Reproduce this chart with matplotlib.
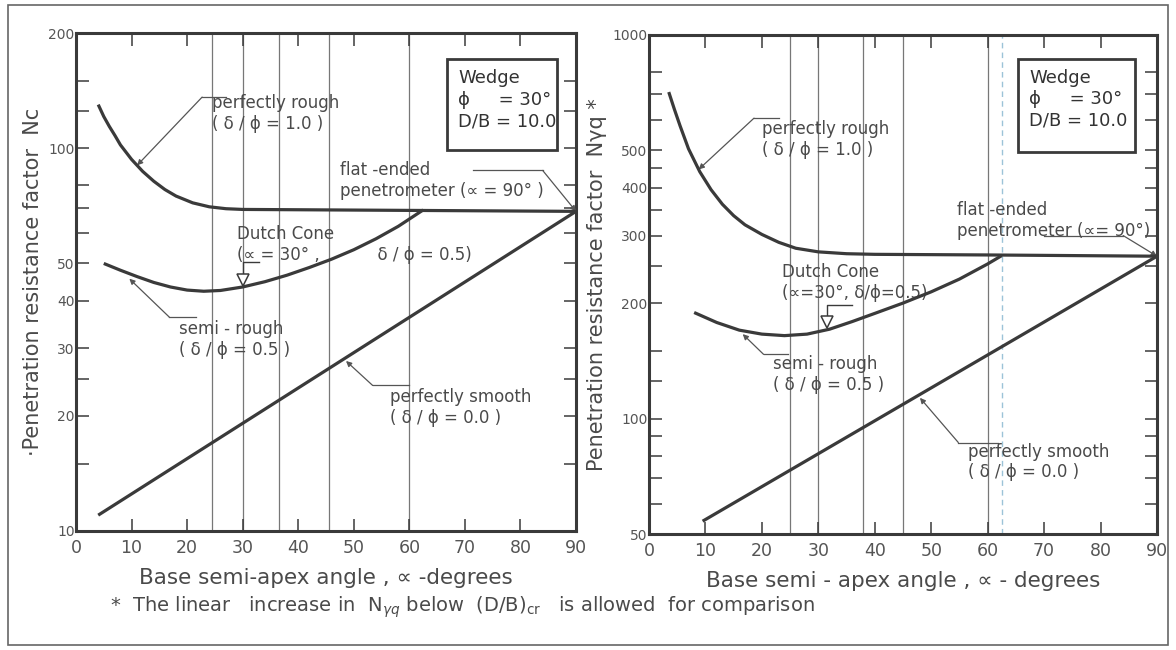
import numpy as np
import matplotlib.pyplot as plt
from matplotlib.patches import Rectangle
from matplotlib.ticker import NullLocator

# ---- data ----
# left panel: Nc
nc_rough_x = [4, 5, 6, 7, 8, 10, 12, 14, 16, 18, 21, 24, 27, 30, 45, 60, 75, 90]
nc_rough_y = [130, 121, 114, 108, 102, 93.5, 87, 82, 78, 75, 72, 70.3, 69.5, 69.2, 69, 68.8, 68.6, 68.4]
nc_semi_x = [5, 8, 11, 14, 17, 20, 23, 26, 30, 34, 38, 42, 46, 50, 54, 58, 62.5]
nc_semi_y = [50, 48, 46.2, 44.6, 43.4, 42.6, 42.3, 42.5, 43.4, 44.8, 46.6, 48.8, 51.3, 54.3, 58, 62.5, 69]
nc_smooth_x = [4, 90]
nc_smooth_y = [11, 68.4]
nc_vlines = [24.5, 30, 36.5, 45.5, 60]
nc_ticks = [10, 15, 20, 25, 30, 40, 50, 60, 70, 80, 100, 125, 150, 200]
nc_labels = ['10', '', '20', '', '30', '40', '50', '', '', '', '100', '', '', '200']

# right panel: N gamma q
nq_rough_x = [3.5, 4.5, 5.5, 7, 9, 11, 13, 15, 17, 20, 23, 26, 30, 35, 40, 60, 90]
nq_rough_y = [710, 640, 580, 505, 440, 395, 362, 338, 320, 302, 288, 278, 272, 269, 268, 267, 265]
nq_semi_x = [8, 12, 16, 20, 24, 28, 32, 36, 40, 45, 50, 55, 60, 62.5]
nq_semi_y = [189, 178, 170, 166, 164.5, 166, 171, 179, 188, 200, 214, 231, 253, 266]
nq_smooth_x = [9.5, 90]
nq_smooth_y = [54, 265]
nq_vlines = [25, 30, 38, 45, 60]
nq_ticks = [50, 60, 70, 80, 90, 100, 125, 150, 200, 250, 300, 350, 400, 450, 500, 600, 700, 800, 1000]
nq_labels = ['50', '', '', '', '', '100', '', '', '200', '', '300', '', '400', '', '500', '', '', '', '1000']

x_ticks = [0, 10, 20, 30, 40, 50, 60, 70, 80, 90]

INK = '#3a3a3a'
TXT = '#4a4a4a'
ANN = 12


def on_curve(x, xs, ys):
    return 10 ** np.interp(x, xs, np.log10(ys))


def leader(ax, text_xy, text, path, tip):
    ax.text(text_xy[0], text_xy[1], text, fontsize=ANN, color=TXT,
            ha='left', va='center', linespacing=1.2)
    px = [p[0] for p in path]
    py = [p[1] for p in path]
    ax.plot(px, py, color='#555555', lw=0.9)
    ax.annotate('', xy=tip, xytext=path[-1],
                arrowprops=dict(arrowstyle='-|>', color='#555555', lw=0.9,
                                mutation_scale=8, shrinkA=0, shrinkB=0))


def dutch_marker(ax, x, xs, ys, bar_len):
    y = on_curve(x, xs, ys)
    ax.plot([x], [y * 1.045], marker='v', ms=9, mfc='white', mec=INK, mew=1.1, zorder=5)
    ax.plot([x, x, x + bar_len], [y * 1.08, y * 1.16, y * 1.16], color=INK, lw=1.0)


def setup(ax, ylim, ticks, labels, vlines, ylabel, xlabel):
    ax.set_yscale('log')
    ax.set_xlim(0, 90)
    ax.set_ylim(*ylim)
    ax.set_yticks(ticks, labels)
    ax.yaxis.set_minor_locator(NullLocator())
    ax.set_xticks(x_ticks)
    ax.tick_params(axis='both', direction='in', length=9, width=1.1, color=INK,
                   top=True, right=True)
    ax.tick_params(axis='y', labelsize=10, labelcolor='#555555', pad=1)
    ax.tick_params(axis='x', labelsize=12.5, labelcolor='#555555', pad=6)
    for s in ax.spines.values():
        s.set_linewidth(2.2)
        s.set_color(INK)
    for v in vlines:
        ax.axvline(v, color='#777777', lw=0.9, zorder=1)
    ax.set_ylabel(ylabel, fontsize=15, color=TXT, labelpad=4)
    ax.set_xlabel(xlabel, fontsize=15.5, color=TXT, labelpad=8)


def wedge_box(ax, x0, y0, x1, y1):
    ax.add_patch(Rectangle((x0, y0), x1 - x0, y1 - y0, transform=ax.transAxes,
                           fill=False, lw=2.0, ec=INK, zorder=6))
    tx = x0 + 0.022
    ax.text(tx, y1 - 0.02, 'Wedge\nϕ     = 30°\nD/B = 10.0', transform=ax.transAxes,
            fontsize=13, color='#333333', va='top', ha='left', linespacing=1.25)


fig = plt.figure(figsize=(11.76, 6.5), dpi=100)
fig.patches.append(Rectangle((8 / 1176, 5 / 650), 1160 / 1176, 640 / 650,
                             transform=fig.transFigure, fill=False, lw=1.2, ec='#666666'))

axL = fig.add_axes([76 / 1176, 1 - 531 / 650, 500 / 1176, 498 / 650])
axR = fig.add_axes([649 / 1176, 1 - 534 / 650, 508 / 1176, 499 / 650])

# ---- left panel ----
setup(axL, (10, 200), nc_ticks, nc_labels, nc_vlines,
      '·Penetration resistance factor  Nc', 'Base semi-apex angle , ∝ -degrees')
for xs, ys in [(nc_rough_x, nc_rough_y), (nc_semi_x, nc_semi_y), (nc_smooth_x, nc_smooth_y)]:
    axL.plot(xs, ys, color=INK, lw=2.3, solid_capstyle='butt', zorder=4)
wedge_box(axL, 0.742, 0.766, 0.962, 0.947)
leader(axL, (24.5, 123), 'perfectly rough\n( δ / ϕ = 1.0 )',
       [(27, 136), (22.7, 136)], (11, on_curve(11, nc_rough_x, nc_rough_y)))
leader(axL, (47.5, 82.5), 'flat -ended\npenetrometer (∝ = 90° )',
       [(71.5, 87.5), (84, 87.5)], (90, on_curve(90, nc_rough_x, nc_rough_y)))
axL.text(29, 56, 'Dutch Cone\n(∝ = 30° ,           δ / ϕ = 0.5)',
         fontsize=ANN, color=TXT, ha='left', va='center', linespacing=1.2)
dutch_marker(axL, 30, nc_semi_x, nc_semi_y, 3)
leader(axL, (18.5, 31.7), 'semi - rough\n( δ / ϕ = 0.5 )',
       [(21.6, 36.2), (16.8, 36.2)], (9.6, on_curve(9.6, nc_semi_x, nc_semi_y) * 0.97))
leader(axL, (56.5, 21), 'perfectly smooth\n( δ / ϕ = 0.0 )',
       [(59.9, 24), (53.4, 24)], (48.6, on_curve(48.6, nc_smooth_x, nc_smooth_y) * 0.98))

# ---- right panel ----
setup(axR, (50, 1000), nq_ticks, nq_labels, nq_vlines,
      'Penetration resistance factor  Nγq *', 'Base semi - apex angle , ∝ - degrees')
axR.axvline(62.5, color='#9cc3d8', lw=1.0, ls=(0, (4, 3)), zorder=1)
for xs, ys in [(nq_rough_x, nq_rough_y), (nq_semi_x, nq_semi_y), (nq_smooth_x, nq_smooth_y)]:
    axR.plot(xs, ys, color=INK, lw=2.3, solid_capstyle='butt', zorder=4)
wedge_box(axR, 0.726, 0.766, 0.957, 0.952)
leader(axR, (20, 535), 'perfectly rough\n( δ / ϕ = 1.0 )',
       [(23, 607), (18.6, 607)], (8.8, on_curve(8.8, nq_rough_x, nq_rough_y)))
leader(axR, (54.5, 328), 'flat -ended\npenetrometer (∝= 90°)',
       [(70, 300), (84, 300)], (90, on_curve(90, nq_rough_x, nq_rough_y)))
axR.text(23.5, 226, 'Dutch Cone\n(∝=30°, δ/ϕ=0.5)',
         fontsize=ANN, color=TXT, ha='left', va='center', linespacing=1.2)
dutch_marker(axR, 31.5, nq_semi_x, nq_semi_y, 4.5)
leader(axR, (22, 130), 'semi - rough\n( δ / ϕ = 0.5 )',
       [(24.7, 147), (20.3, 147)], (16.6, on_curve(16.6, nq_semi_x, nq_semi_y) * 0.98))
leader(axR, (56.5, 77), 'perfectly smooth\n( δ / ϕ = 0.0 )',
       [(61.9, 86.6), (54.8, 86.6)], (48, on_curve(48, nq_smooth_x, nq_smooth_y) * 0.98))

fig.text(110 / 1176, 1 - 607 / 650,
         '*  The linear   increase in  N$_{\\gamma q}$ below  (D/B)$_{\\rm cr}$   is allowed  for comparison',
         fontsize=14, color=TXT, ha='left', va='center')

fig.savefig('out.png', dpi=100, facecolor='white')
